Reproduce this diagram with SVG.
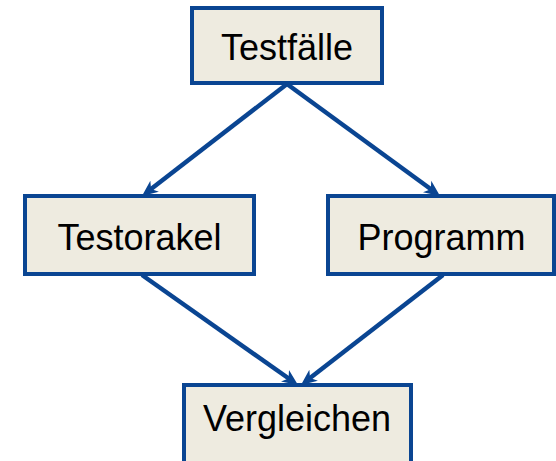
<svg xmlns="http://www.w3.org/2000/svg" width="556" height="461" viewBox="0 0 556 461">
<style>
.box{fill:#EEEBE0;stroke:#0A4592;stroke-width:4}
.lbl{font-family:"Liberation Sans",Arial,sans-serif;font-size:36px;fill:#000;text-anchor:middle}
.edge{stroke:#0A4592;stroke-width:4.5;fill:none;marker-end:url(#ah)}
</style>
<defs>
<marker id="ah" markerUnits="userSpaceOnUse" markerWidth="18" markerHeight="16" refX="9" refY="8" orient="auto">
<path d="M0,1 L16,8 L0,15 L4.5,8 Z" fill="#0A4592"/>
</marker>
</defs>
<rect width="556" height="461" fill="#fff"/>
<g id="connectors">
<path class="edge" d="M287,84 L147.5,191.7"/>
<path class="edge" d="M287,84 L434.4,191.8"/>
<path class="edge" d="M142,275 L292.3,381"/>
<path class="edge" d="M443,275 L306.5,380.7"/>
</g>
<g id="testfaelle">
<rect class="box" x="192" y="8" width="190" height="75"/>
<text class="lbl" x="287" y="60">Testfälle</text>
</g>
<g id="testorakel">
<rect class="box" x="25" y="196" width="229" height="78"/>
<text class="lbl" x="139.5" y="250">Testorakel</text>
</g>
<g id="programm">
<rect class="box" x="328" y="196" width="226" height="78"/>
<text class="lbl" x="441.5" y="250">Programm</text>
</g>
<g id="vergleichen">
<rect class="box" x="184" y="385" width="227" height="82"/>
<text class="lbl" x="297" y="431">Vergleichen</text>
</g>
</svg>
